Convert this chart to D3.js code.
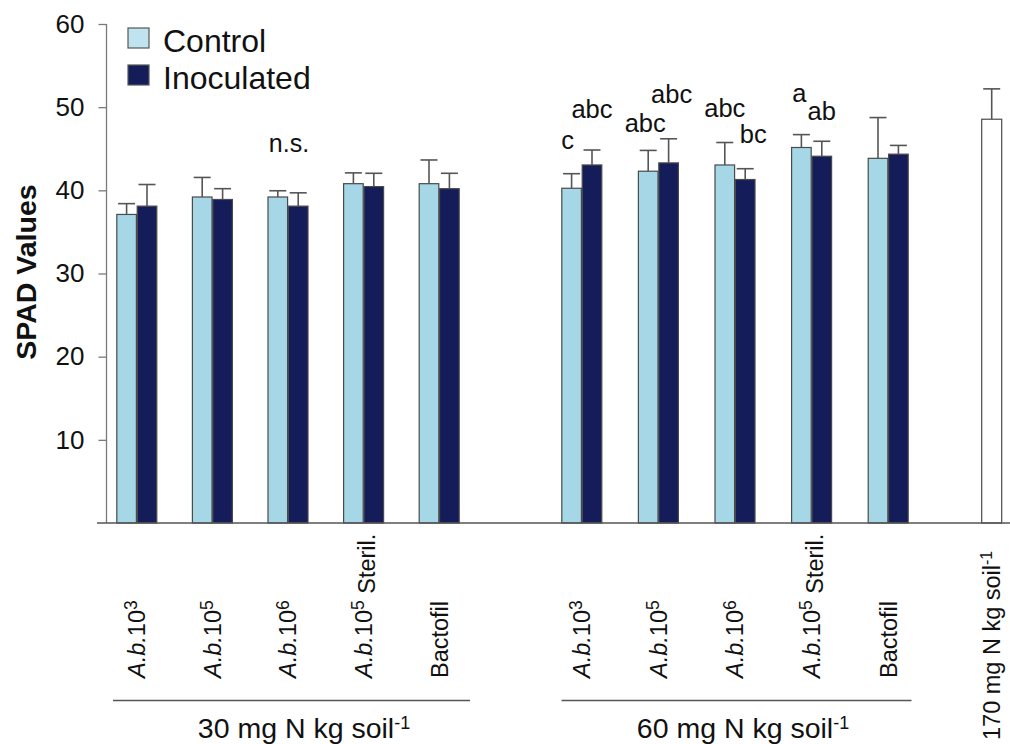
<!DOCTYPE html>
<html>
<head>
<meta charset="utf-8">
<script src="https://cdn.jsdelivr.net/npm/d3@7/dist/d3.min.js"></script>
<style>
  html, body { margin: 0; padding: 0; background: #fff; }
  svg { display: block; font-family: "Liberation Sans", Arial, sans-serif; }
</style>
</head>
<body>
<svg id="chart" width="1010" height="744"></svg>
<script>
// ---- data -------------------------------------------------------------
const series = ["Control", "Inoculated"];

// treatment labels: italic prefix, base, superscript exponent, trailing text
const treatments = [
  { ital: "A.b.", base: "10", sup: "3", tail: "" },
  { ital: "A.b.", base: "10", sup: "5", tail: "" },
  { ital: "A.b.", base: "10", sup: "6", tail: "" },
  { ital: "A.b.", base: "10", sup: "5", tail: " Steril." },
  { ital: "", base: "Bactofil", sup: "", tail: "" }
];

const nitrogenGroups = ["30 mg N kg soil", "60 mg N kg soil"];

// SPAD means and standard errors
const control30 = [37.1, 39.2, 39.2, 40.8, 40.8];
const control30Err = [1.3, 2.35, 0.75, 1.3, 2.85];
const inoc30 = [38.1, 38.9, 38.1, 40.45, 40.2];
const inoc30Err = [2.6, 1.3, 1.6, 1.6, 1.85];

const control60 = [40.25, 42.3, 43.05, 45.15, 43.85];
const control60Err = [1.75, 2.5, 2.7, 1.55, 4.9];
const inoc60 = [43.05, 43.3, 41.3, 44.1, 44.35];
const inoc60Err = [1.8, 2.9, 1.3, 1.8, 1.05];

const fullN = 48.55;
const fullNErr = 3.65;
const fullNLabel = "170 mg N kg soil";

// significance letters (60 mg N group), keyed by treatment index and series
const letters60 = [
  { t: 0, s: "Control", text: "c" },
  { t: 0, s: "Inoculated", text: "abc" },
  { t: 1, s: "Control", text: "abc" },
  { t: 1, s: "Inoculated", text: "abc" },
  { t: 2, s: "Control", text: "abc" },
  { t: 2, s: "Inoculated", text: "bc" },
  { t: 3, s: "Control", text: "a" },
  { t: 3, s: "Inoculated", text: "ab" }
];
const nsLabel = "n.s.";

const yTicks = [10, 20, 30, 40, 50, 60];

// ---- layout -----------------------------------------------------------
const colors = { Control: "#a6d7e7", Inoculated: "#141c5a" };
const baseY = 523, topY = 24;
const axisX = 106.5;
// letter placement relative to the error-bar top [dx, dy]
const letterOffsets = [[-4, -25], [0, -32], [-3, -18], [3, -36], [0, -26], [8, -26], [-2, -33], [0, -21]];
// underline extents and label centres for the nitrogen groups
const groupLines = [[113, 470], [561.5, 911.5]];
const groupLabelX = [304, 743];

const svg = d3.select("#chart");

const y = d3.scaleLinear().domain([0, 60]).range([baseY, topY]);

// one band scale per nitrogen level
const x30 = d3.scaleBand().domain(d3.range(treatments.length)).range([99, 477]);
const x60 = d3.scaleBand().domain(d3.range(treatments.length)).range([543.5, 926.5]);
const fullCenter = 991.7;

const inner = d3.scaleBand().domain(series).range([-20, 20]).paddingInner(0.04);

function rows(xs, ctrl, ctrlErr, inoc, inocErr) {
  const out = [];
  treatments.forEach((t, i) => {
    const c = xs(i) + xs.bandwidth() / 2;
    out.push({ t: i, s: "Control", v: ctrl[i], e: ctrlErr[i], cx: c });
    out.push({ t: i, s: "Inoculated", v: inoc[i], e: inocErr[i], cx: c });
  });
  return out;
}
const bars30 = rows(x30, control30, control30Err, inoc30, inoc30Err);
const bars60 = rows(x60, control60, control60Err, inoc60, inoc60Err);
const allBars = bars30.concat(bars60);

// ---- axes -------------------------------------------------------------
const yAxis = d3.axisLeft(y).tickValues(yTicks).tickSize(8).tickPadding(14).tickFormat(d3.format("d"));
const gy = svg.append("g").attr("transform", `translate(${axisX},0)`).call(yAxis);
gy.select(".domain").attr("stroke", "#7a7a7a").attr("stroke-width", 1.3).attr("d", `M0,${y(60)}V${baseY}`);
gy.selectAll(".tick line").attr("stroke", "#7a7a7a").attr("stroke-width", 1.3);
gy.selectAll(".tick text").attr("fill", "#111").style("font-size", "26px")
  .style("font-family", "'Liberation Sans', Arial, sans-serif");

svg.append("text")
  .attr("transform", `translate(36,${272}) rotate(-90)`)
  .attr("text-anchor", "middle")
  .style("font-size", "28.5px").style("font-weight", "bold").attr("fill", "#111")
  .text("SPAD Values");

// ---- bars -------------------------------------------------------------
const barG = svg.append("g");
barG.selectAll("rect.bar").data(allBars).join("rect")
  .attr("class", "bar")
  .attr("x", d => d.cx + inner(d.s))
  .attr("width", inner.bandwidth())
  .attr("y", d => y(d.v))
  .attr("height", d => y(0) - y(d.v))
  .attr("fill", d => colors[d.s])
  .attr("stroke", "#4a4a4a").attr("stroke-width", 1.2);

const errG = svg.append("g").attr("stroke", "#555").attr("stroke-width", 1.6).attr("fill", "none");
function errorBar(cx, v, e) {
  errG.append("line").attr("x1", cx).attr("x2", cx).attr("y1", y(v)).attr("y2", y(v + e));
  errG.append("line").attr("x1", cx - 8.5).attr("x2", cx + 8.5).attr("y1", y(v + e)).attr("y2", y(v + e));
}
allBars.forEach(d => errorBar(d.cx + inner(d.s) + inner.bandwidth() / 2, d.v, d.e));

// full-N reference bar
svg.append("rect")
  .attr("x", fullCenter - 10).attr("width", 20)
  .attr("y", y(fullN)).attr("height", y(0) - y(fullN))
  .attr("fill", "#fff").attr("stroke", "#4a4a4a").attr("stroke-width", 1.2);
errorBar(fullCenter, fullN, fullNErr);

// baseline
svg.append("line").attr("x1", 97).attr("x2", 1010).attr("y1", baseY).attr("y2", baseY)
  .attr("stroke", "#555").attr("stroke-width", 1.3);

// ---- significance letters ---------------------------------------------
const letterG = svg.append("g").style("font-family", "'Liberation Sans', Arial, sans-serif")
  .style("font-size", "25.5px").attr("fill", "#111").attr("text-anchor", "middle");
letters60.forEach((l, i) => {
  const b = bars60.find(d => d.t === l.t && d.s === l.s);
  const cx = b.cx + inner(b.s) + inner.bandwidth() / 2;
  letterG.append("text")
    .attr("x", cx + letterOffsets[i][0])
    .attr("y", y(b.v + b.e) + letterOffsets[i][1])
    .text(l.text);
});
letterG.append("text")
  .attr("x", x30(2) + x30.bandwidth() / 2 + 1)
  .attr("y", 151.5)
  .style("font-size", "25px")
  .text(nsLabel);

// ---- category labels --------------------------------------------------
function treatmentLabel(cx, t) {
  const txt = svg.append("text")
    .attr("transform", `translate(${cx},678) rotate(-90)`)
    .attr("dy", "0.36em")
    .attr("text-anchor", "start")
    .style("font-size", "23.5px").attr("fill", "#111");
  if (t.ital) txt.append("tspan").style("font-style", "italic").text(t.ital);
  txt.append("tspan").text(t.base);
  if (t.sup) txt.append("tspan").attr("dy", "-0.45em").style("font-size", "17.5px").text(t.sup);
  if (t.tail) txt.append("tspan").attr("dy", t.sup ? "0.45em" : 0).text(t.tail);
}
treatments.forEach((t, i) => {
  treatmentLabel(x30(i) + x30.bandwidth() / 2, t);
  treatmentLabel(x60(i) + x60.bandwidth() / 2, t);
});

// full-N label
const fl = svg.append("text")
  .attr("transform", `translate(${fullCenter},740) rotate(-90)`)
  .attr("dy", "0.36em")
  .style("font-size", "23.5px").attr("fill", "#111");
fl.append("tspan").text(fullNLabel);
fl.append("tspan").attr("dy", "-0.5em").style("font-size", "16px").text("-1");

// ---- nitrogen group labels --------------------------------------------
nitrogenGroups.forEach((g, i) => {
  const [x0, x1] = groupLines[i];
  svg.append("line").attr("x1", x0).attr("x2", x1).attr("y1", 700.5).attr("y2", 700.5)
    .attr("stroke", "#555").attr("stroke-width", 1.3);
  const t = svg.append("text")
    .attr("x", groupLabelX[i]).attr("y", 738)
    .attr("text-anchor", "middle")
    .style("font-size", "28.5px").attr("fill", "#111");
  t.append("tspan").text(g);
  t.append("tspan").attr("dy", "-0.5em").style("font-size", "18px").text("-1");
});

// ---- legend -----------------------------------------------------------
const legend = svg.append("g").attr("transform", "translate(128,28)");
series.forEach((s, i) => {
  const row = legend.append("g").attr("transform", `translate(0,${i * 37})`);
  row.append("rect").attr("width", 21).attr("height", 20)
    .attr("fill", s === "Control" ? "#bfe4ef" : colors[s])
    .attr("stroke", "#555").attr("stroke-width", 1.2);
  row.append("text").attr("x", 35).attr("y", 23.5)
    .style("font-size", "32px").attr("fill", "#111").text(s);
});
</script>
</body>
</html>
